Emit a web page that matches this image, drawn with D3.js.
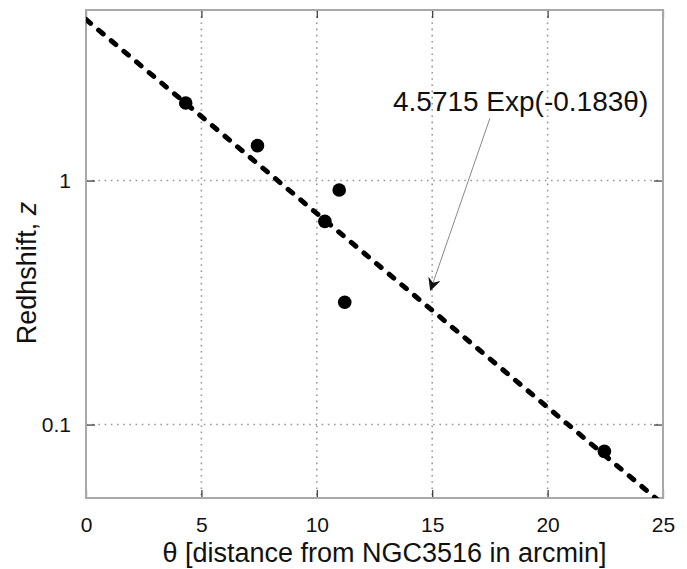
<!DOCTYPE html>
<html>
<head>
<meta charset="utf-8">
<script src="https://cdn.jsdelivr.net/npm/d3@7"></script>
<style>
  body { margin: 0; background: #fff; }
  text { font-family: "Liberation Sans", Arial, sans-serif; fill: #111; }
</style>
</head>
<body>
<div id="chart"></div>
<script>
// Data
var theta = [4.32, 7.43, 10.35, 10.97, 11.21, 22.46];
var redshift = [2.08, 1.39, 0.68, 0.915, 0.317, 0.0776];

// fitted curve z = A exp(-k theta)
var fitA = 4.5715;
var fitK = 0.183;
var fitLabel = "4.5715 Exp(-0.183\u03b8)";

var xTicks = [0, 5, 10, 15, 20, 25];
var yTicks = [0.1, 1];
var yTickLabels = ["0.1", "1"];

// annotation: text anchor and arrow ends, in data units
var noteAt = [13.3, 1.92];
var arrowFrom = [17.5, 1.8];
var arrowTo = [14.93, 0.356];

var svgWidth = 687;
var svgHeight = 569;
var margin = { top: 10, right: 24, bottom: 71, left: 86 };
var width = svgWidth - margin.left - margin.right;
var height = svgHeight - margin.top - margin.bottom;

var svg = d3.select("#chart")
  .append("svg")
  .attr("width", svgWidth)
  .attr("height", svgHeight);

svg.append("defs").append("clipPath")
  .attr("id", "plotclip")
  .append("rect")
  .attr("width", width)
  .attr("height", height);

svg.select("defs").append("marker")
  .attr("id", "head")
  .attr("viewBox", "0 0 12 12")
  .attr("refX", 11)
  .attr("refY", 6)
  .attr("markerWidth", 13)
  .attr("markerHeight", 13)
  .attr("markerUnits", "userSpaceOnUse")
  .attr("orient", "auto")
  .append("path")
  .attr("d", "M0,0 L12,6 L0,12 L4,6 Z")
  .attr("fill", "#111");

var chartGroup = svg.append("g")
  .attr("transform", `translate(${margin.left}, ${margin.top})`);

var xScale = d3.scaleLinear().domain([0, 25]).range([0, width]);
var yScale = d3.scaleLog().domain([0.05, 5]).range([height, 0]);

// grid
chartGroup.append("g")
  .selectAll("line")
  .data(xTicks.slice(1, -1))
  .enter()
  .append("line")
  .attr("x1", d => xScale(d)).attr("x2", d => xScale(d))
  .attr("y1", 0).attr("y2", height)
  .attr("stroke", "#999")
  .attr("stroke-width", 1.6)
  .attr("stroke-dasharray", "1.6,4.6");

chartGroup.append("g")
  .selectAll("line")
  .data(yTicks)
  .enter()
  .append("line")
  .attr("x1", 0).attr("x2", width)
  .attr("y1", d => yScale(d)).attr("y2", d => yScale(d))
  .attr("stroke", "#999")
  .attr("stroke-width", 1.6)
  .attr("stroke-dasharray", "1.6,4.6");

// axes with inward ticks on all four sides
var bottomAxis = d3.axisBottom(xScale).tickValues(xTicks).tickSizeInner(-8).tickSizeOuter(0).tickPadding(19);
var topAxis = d3.axisTop(xScale).tickValues(xTicks).tickSizeInner(-8).tickSizeOuter(0).tickFormat("");
var leftAxis = d3.axisLeft(yScale).tickValues(yTicks).tickSizeInner(-9).tickSizeOuter(0).tickPadding(15)
  .tickFormat((d, i) => yTickLabels[i]);
var rightAxis = d3.axisRight(yScale).tickValues(yTicks).tickSizeInner(-9).tickSizeOuter(0).tickFormat("");

function styleAxis(g) {
  g.select(".domain").remove();
  g.selectAll(".tick line").attr("stroke", "#333").attr("stroke-width", 1.2);
  g.selectAll(".tick text")
    .style("font-family", "'Liberation Sans', Arial, sans-serif")
    .style("font-size", "21px")
    .attr("fill", "#111");
}

chartGroup.append("g").attr("transform", `translate(0, ${height})`).call(bottomAxis).call(styleAxis);
chartGroup.append("g").call(topAxis).call(styleAxis);
chartGroup.append("g").call(leftAxis).call(styleAxis);
chartGroup.append("g").attr("transform", `translate(${width}, 0)`).call(rightAxis).call(styleAxis);

// frame
chartGroup.append("rect")
  .attr("width", width)
  .attr("height", height)
  .attr("fill", "none")
  .attr("stroke", "#a8a8a8")
  .attr("stroke-width", 2);

// fit line (straight on a log axis, so its ends are enough)
var fitLine = d3.line()
  .x(d => xScale(d))
  .y(d => yScale(fitA * Math.exp(-fitK * d)));

chartGroup.append("path")
  .datum([0, 25])
  .attr("clip-path", "url(#plotclip)")
  .attr("d", fitLine)
  .attr("fill", "none")
  .attr("stroke", "#000")
  .attr("stroke-width", 5)
  .attr("stroke-linecap", "round")
  .attr("stroke-dasharray", "6,10.5");

// data points
chartGroup.selectAll("circle")
  .data(theta)
  .enter()
  .append("circle")
  .attr("cx", d => xScale(d))
  .attr("cy", (d, i) => yScale(redshift[i]))
  .attr("r", 6.8)
  .attr("fill", "#000");

// annotation
chartGroup.append("line")
  .attr("x1", xScale(arrowFrom[0]))
  .attr("y1", yScale(arrowFrom[1]))
  .attr("x2", xScale(arrowTo[0]))
  .attr("y2", yScale(arrowTo[1]))
  .attr("stroke", "#888")
  .attr("stroke-width", 1)
  .attr("marker-end", "url(#head)");

chartGroup.append("text")
  .attr("x", xScale(noteAt[0]))
  .attr("y", yScale(noteAt[1]))
  .style("font-size", "28px")
  .text(fitLabel);

// axis labels
chartGroup.append("text")
  .attr("transform", `translate(${width / 2 + 10}, ${height + 64})`)
  .style("text-anchor", "middle")
  .style("font-size", "27px")
  .text("\u03b8 [distance from NGC3516 in arcmin]");

var yLabel = chartGroup.append("text")
  .attr("transform", `translate(${-50}, ${263}) rotate(-90)`)
  .style("text-anchor", "middle")
  .style("font-size", "27px");
yLabel.append("tspan").text("Redhshift, ");
yLabel.append("tspan").style("font-style", "italic").text("z");
</script>
</body>
</html>
